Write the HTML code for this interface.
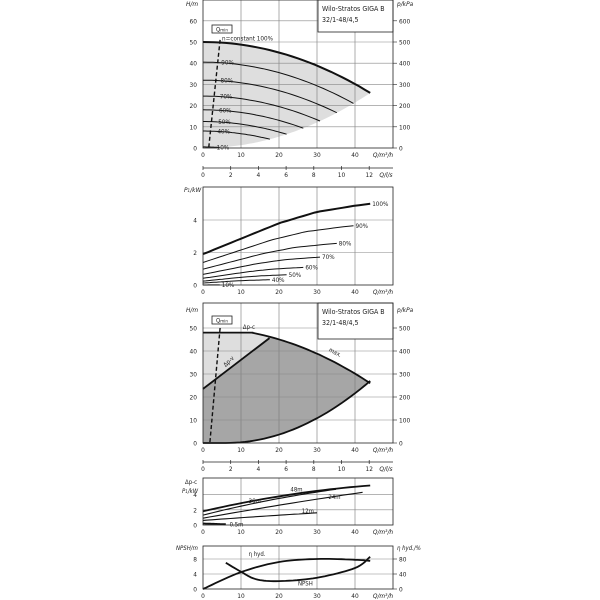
<!DOCTYPE html>
<html><head><meta charset="utf-8"><style>
html,body{margin:0;padding:0;background:#fff;width:600px;height:600px;overflow:hidden}
svg{display:block;font-family:"DejaVu Sans Condensed","Liberation Sans",sans-serif}
</style></head><body>
<svg id="s" width="600" height="600" viewBox="0 0 600 600" xmlns="http://www.w3.org/2000/svg"></svg>
<script>
const S=document.getElementById('s');let h='';
const X=q=>203+q*3.8;
function pl(pts,st){return `<polyline points="${pts.map(p=>p[0].toFixed(1)+','+p[1].toFixed(1)).join(' ')}" fill="none" ${st}/>`;}
function pg(pts,fill){return `<polygon points="${pts.map(p=>p[0].toFixed(1)+','+p[1].toFixed(1)).join(' ')}" fill="${fill}" stroke="none"/>`;}
function t(x,y,s,o){o=o||{};return `<text x="${x}" y="${y}" font-size="${o.fs||6.5}" fill="#222" text-anchor="${o.a||'start'}" ${o.ex||''}>${s}</text>`;}
function rng(a,b,n,f){let r=[];for(let i=0;i<=n;i++){let q=a+(b-a)*i/n;r.push(f(q));}return r;}
function grid(top,bot,ys){let g='';[10,20,30,40].forEach(q=>g+=`<line x1="${X(q)}" y1="${top}" x2="${X(q)}" y2="${bot}" stroke="#777" stroke-width="0.6"/>`);ys.forEach(y=>g+=`<line x1="203" y1="${y}" x2="393" y2="${y}" stroke="#888" stroke-width="0.6"/>`);return g;}
function frame(top,bot){return `<rect x="203" y="${top}" width="190" height="${bot-top}" fill="none" stroke="#222" stroke-width="0.8"/>`;}
function xlab(y,ticks){let g='';[0,10,20,30,40].forEach(q=>g+=t(X(q),y,q,{a:'middle'}));g+=t(383,y,'Q/m³/h',{a:'middle',ex:'font-style="italic"'});return g;}
function ls(y){let g=`<line x1="203" y1="${y}" x2="393" y2="${y}" stroke="#222" stroke-width="0.7"/>`;[0,2,4,6,8,10,12].forEach(v=>{let x=203+v*13.85;g+=`<line x1="${x}" y1="${y-2}" x2="${x}" y2="${y+2}" stroke="#222" stroke-width="0.7"/>`+t(x,y+9,v,{a:'middle'});});g+=t(386,y+9,'Q/l/s',{a:'middle',ex:'font-style="italic"'});return g;}
// Panel 1
{const Y=H=>148-H*2.12;
h+=pg([...rng(0,44,40,q=>[X(q),Y(50-0.0124*q*q)]),...rng(44,0,40,q=>[X(q),Y(0.0134*q*q)])],'#dedede');
h+=grid(0,148,[10,20,30,40,50,60].map(Y));
[[1,'n=constant 100%'],[.9,'90%'],[.8,'80%'],[.7,'70%'],[.6,'60%'],[.5,'50%'],[.4,'40%'],[.1,'10%']].forEach(([s,l],i)=>{
 h+=pl(rng(0,44*s,30,q=>[X(q),Y(50*s*s-0.0124*q*q)]),`stroke="#111" stroke-width="${s==1?2:1}"`);
 const lx=s==1?X(5):X(5-s*1.5);h+=t(s==1?X(5):X(4.5-i*0.2+0.5),Y(50*s*s)-1.5+(s==1?0:4),l,{fs:6.3});
});
h+=`<line x1="${X(4.5)}" y1="${Y(51)}" x2="${X(1.5)}" y2="${Y(0)}" stroke="#111" stroke-width="1.4" stroke-dasharray="4,2.5"/>`;
h+=`<rect x="212" y="25" width="20" height="8" fill="#fff" stroke="#222" stroke-width="0.8"/>`+t(222,31.5,'Q<tspan font-size="4.5">min</tspan>',{a:'middle',fs:6});
h+=`<rect x="318" y="0" width="75" height="32" fill="#fff" stroke="#222" stroke-width="0.8"/>`+t(322,11,'Wilo-Stratos GIGA B',{fs:7})+t(322,22,'32/1-48/4,5',{fs:7});
h+=frame(0,148);
[0,10,20,30,40,50,60].forEach(v=>h+=t(197,Y(v)+2.5,v,{a:'end'}));
[0,100,200,300,400,500,600].forEach(v=>h+=`<line x1="393" y1="${Y(v/10)}" x2="397" y2="${Y(v/10)}" stroke="#222" stroke-width="0.6"/>`+t(399,Y(v/10)+2.5,v));
h+=t(186,6,'H/m',{ex:'font-style="italic"'})+t(397,6,'p/kPa',{ex:'font-style="italic"'});
h+=xlab(157);h+=ls(168);}
// Panel 2
{const Y=P=>285-P*16.25;const pts=[[0,1.9],[10,2.85],[20,3.8],[30,4.5],[40,4.88],[44,5.0]];
const P1=q=>{for(let i=0;i<pts.length-1;i++){if(q<=pts[i+1][0]){const[a,b]=pts[i],[c,d]=pts[i+1];return b+(d-b)*(q-a)/(c-a);}}return 5;};
h+=grid(187,285,[2,4].map(Y));
[[1,'100%'],[.9,'90%'],[.8,'80%'],[.7,'70%'],[.6,'60%'],[.5,'50%'],[.4,'40%'],[.1,'10%']].forEach(([s,l])=>{
 const e=44*s*(s<.5&&s>.2?1:1);h+=pl(rng(0,e,30,q=>[X(q),Y(s*s*s*P1(q/s))]),`stroke="#111" stroke-width="${s==1?2:1}"`);
 h+=t(X(e)+2,Y(s*s*s*5)+2,l,{fs:6.3});});
h+=frame(187,285);
[0,2,4].forEach(v=>h+=t(197,Y(v)+2.5,v,{a:'end'}));
h+=t(184,192,'P<tspan font-size="4.5">1</tspan>/kW',{ex:'font-style="italic"'});
h+=xlab(294);}
// Panel 3
{const Y=H=>443-H*2.3;const mx=q=>50-0.0124*q*q;
h+=pg([[X(0),Y(48)],[X(13),Y(48)],...rng(13,17.5,5,q=>[X(q),Y(mx(q))]),[X(0),Y(23.5)]],'#dedede');
h+=pg([[X(0),Y(23.5)],...rng(17.5,44,30,q=>[X(q),Y(mx(q))]),...rng(44,6,30,q=>[X(q),Y(0.0187*(q-6)*(q-6))]),[X(0),Y(0)]],'#a6a6a6');
h+=grid(303,443,[10,20,30,40,50].map(Y));
h+=pl([[X(0),Y(48)],[X(13),Y(48)],...rng(13,44,30,q=>[X(q),Y(mx(q))])],'stroke="#111" stroke-width="1.8"');
h+=pl([[X(0),Y(23.5)],[X(17.5),Y(45.6)]],'stroke="#111" stroke-width="1.8"');
h+=pl([[X(0),Y(0)],...rng(6,44,30,q=>[X(q),Y(0.0187*(q-6)*(q-6))])],'stroke="#111" stroke-width="1.8"');
h+=`<line x1="${X(4.5)}" y1="${Y(50)}" x2="${X(1.8)}" y2="${Y(0)}" stroke="#111" stroke-width="1.4" stroke-dasharray="4,2.5"/>`;
h+=`<rect x="212" y="316" width="20" height="8" fill="#fff" stroke="#222" stroke-width="0.8"/>`+t(222,322.5,'Q<tspan font-size="4.5">min</tspan>',{a:'middle',fs:6});
h+=t(X(10.5),Y(49.5),'Δp-c',{fs:6})+t(X(6),Y(33),'Δp-v',{fs:6,ex:`transform="rotate(-45 ${X(6)} ${Y(33)})"`})+t(X(33),Y(40),'max.',{fs:6,ex:`transform="rotate(28 ${X(33)} ${Y(40)})"`});
h+=`<rect x="318" y="303" width="75" height="36" fill="#fff" stroke="#222" stroke-width="0.8"/>`+t(322,314,'Wilo-Stratos GIGA B',{fs:7})+t(322,325,'32/1-48/4,5',{fs:7});
h+=frame(303,443);
[0,10,20,30,40,50].forEach(v=>h+=t(197,Y(v)+2.5,v,{a:'end'}));
[0,100,200,300,400,500].forEach(v=>h+=`<line x1="393" y1="${Y(v/10)}" x2="397" y2="${Y(v/10)}" stroke="#222" stroke-width="0.6"/>`+t(399,Y(v/10)+2.5,v));
h+=t(186,312,'H/m',{ex:'font-style="italic"'})+t(397,312,'p/kPa',{ex:'font-style="italic"'});
h+=xlab(452);h+=ls(462);}
// Panel 4
{const Y=P=>525-P*7.6;h+=grid(478,525,[2,4].map(Y));
const c=(a,b,e,k)=>rng(0,e,25,q=>{const u=q/e;return[X(q),Y(a+(b-a)*(u+k*u*(1-u)))];});
h+=pl(c(1.8,5.2,44,0.5),'stroke="#111" stroke-width="1.8"');
h+=pl(c(1.3,4.7,35,0.3),'stroke="#111" stroke-width="1.1"');
h+=pl(c(0.9,4.3,42,0.1),'stroke="#111" stroke-width="1.1"');
h+=pl(c(0.6,1.6,30,0.1),'stroke="#111" stroke-width="1.1"');
h+=pl(c(0.2,0.1,6,0),'stroke="#111" stroke-width="1.8"');
h+=t(X(23),Y(4.4),'48m',{fs:6})+t(X(12),Y(2.9),'36m',{fs:6})+t(X(33),Y(3.4),'24m',{fs:6})+t(X(26),Y(1.6),'12m',{fs:6})+t(X(7),Y(-0.2),'0.5m',{fs:6});
h+=frame(478,525);[0,2,4].forEach(v=>h+=t(197,Y(v)+2.5,v,{a:'end'}));
h+=t(185,484,'Δp-c',{fs:6})+t(182,493,'P<tspan font-size="4.5">1</tspan>/kW',{fs:6,ex:'font-style="italic"'});
h+=xlab(534);}
// Panel 5
{const Y=v=>589-v*3.75;h+=grid(546,589,[4,8].map(Y));
const sp=(pts)=>{let r=[];for(let i=0;i<pts.length-1;i++){const p0=pts[Math.max(i-1,0)],p1=pts[i],p2=pts[i+1],p3=pts[Math.min(i+2,pts.length-1)];for(let k=0;k<10;k++){const tt=k/10,t2=tt*tt,t3=t2*tt;const f=(a,b,c,d)=>0.5*(2*b+(-a+c)*tt+(2*a-5*b+4*c-d)*t2+(-a+3*b-3*c+d)*t3);r.push([X(f(p0[0],p1[0],p2[0],p3[0])),Y(f(p0[1],p1[1],p2[1],p3[1]))]);}}const l=pts[pts.length-1];r.push([X(l[0]),Y(l[1])]);return r;};
h+=pl(sp([[0,0],[10,4.5],[20,7.2],[30,8],[40,7.8],[44,7.5]]),'stroke="#111" stroke-width="1.8"');
h+=pl(sp([[6,7],[10,4.6],[14,2.6],[20,2.1],[30,3],[40,5.6],[44,8.6]]),'stroke="#111" stroke-width="1.8"');
h+=t(X(12),Y(8.8),'η hyd.',{fs:6})+t(X(25),Y(0.9),'NPSH',{fs:6});
h+=frame(546,589);[0,4,8].forEach(v=>h+=t(197,Y(v)+2.5,v,{a:'end'}));
[0,40,80].forEach(v=>h+=`<line x1="393" y1="${Y(v/10)}" x2="397" y2="${Y(v/10)}" stroke="#222" stroke-width="0.6"/>`+t(399,Y(v/10)+2.5,v));
h+=t(176,550,'NPSH/m',{fs:6,ex:'font-style="italic"'})+t(397,550,'η hyd./%',{fs:6,ex:'font-style="italic"'});
h+=xlab(598);}
S.innerHTML=h;
</script>
</body></html>
